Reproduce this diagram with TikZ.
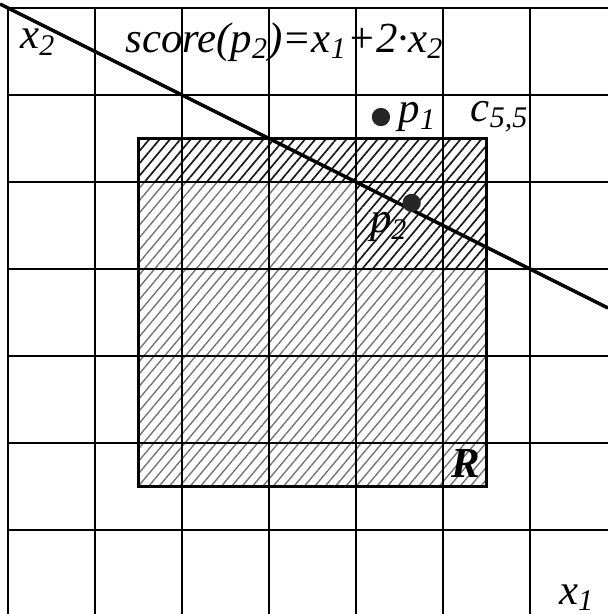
\documentclass[tikz,border=0pt]{standalone}
\usepackage{fontspec}
\setmainfont{Liberation Serif}
\usepackage{tikz}
\usetikzlibrary{patterns.meta, positioning}
\newcommand{\ivar}[2]{\textit{#1}\textsubscript{\textit{#2}}}

\begin{document}
\begin{tikzpicture}[
  gridline/.style={line width=0.7pt},
  lbl/.style={font=\fontsize{14}{16}\selectfont\itshape, inner sep=1pt},
  dot/.style={circle, fill=black!85, inner sep=0pt, minimum size=0.21cm},
  hatchlight/.style={pattern={Lines[angle=50, distance=2.6pt, line width=0.45pt]}, pattern color=black!55},
  hatchdark/.style={pattern={Lines[angle=50, distance=2.6pt, line width=0.55pt]}, pattern color=black!90}]
  \useasboundingbox (-0.092,0.092) rectangle (6.897,-6.966);
  \fill[hatchdark] (1.5,-1.5) rectangle (5.5,-2);
  \fill[hatchdark] (4,-2) rectangle (5.5,-3);
  \fill[hatchlight] (1.5,-2) rectangle (4,-3);
  \fill[hatchlight] (1.5,-3) rectangle (5.5,-5.5);
  \foreach \i in {0,...,6} {
    \draw[gridline] (\i,0) -- (\i,-6.966);
    \draw[gridline] (0,-\i) -- (6.897,-\i);
  }
  \draw[line width=1.1pt] (1.5,-1.5) rectangle (5.5,-5.5);
  \coordinate (lstart) at (-0.092,0.046);
  \coordinate (lend) at (6.897,-3.4485);
  \draw[line width=1.1pt] (lstart) -- (lend);
  \node[dot] (pone) at (4.287,-1.253) {};
  \node[dot] (ptwo) at (4.64,-2.24) {};
  \node[lbl] (xtwo) at (0.345,-0.39) {\ivar{x}{2}};
  \node[lbl] (score) at (3.18,-0.39) {score(\ivar{p}{2})=\ivar{x}{1}+2·\ivar{x}{2}};
  \node[lbl, right=0.05cm of pone] (ponelbl) {\ivar{p}{1}};
  \node[lbl] (cell) at (5.655,-1.25) {\ivar{c}{5,5}};
  \node[lbl] (ptwolbl) at (4.38,-2.52) {\ivar{p}{2}};
  \node[lbl, font=\fontsize{14}{16}\selectfont\bfseries\itshape] (rlbl) at (5.26,-5.23) {R};
  \node[lbl] (xone) at (6.54,-6.78) {\ivar{x}{1}};
\end{tikzpicture}
\end{document}
